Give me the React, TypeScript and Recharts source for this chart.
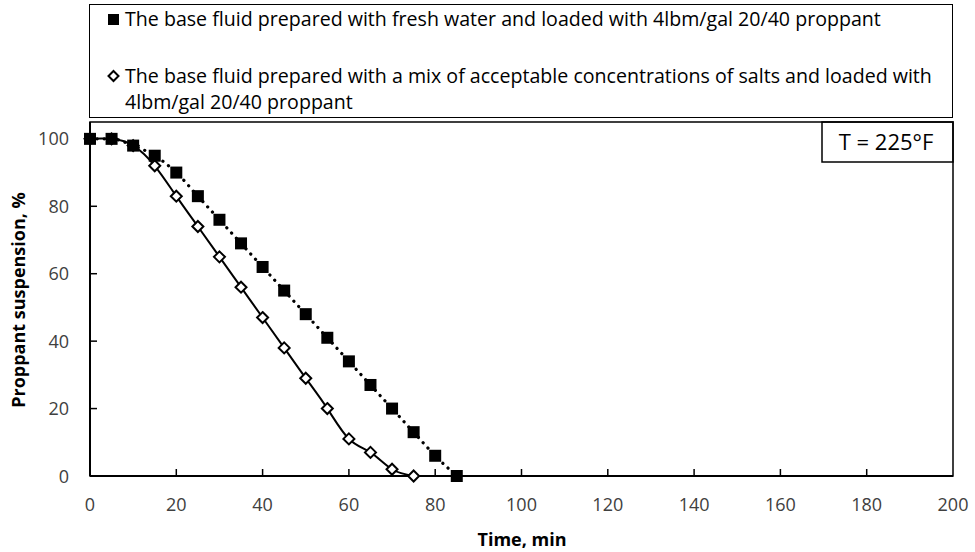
import React from "react";
import { LineChart, Line, XAxis, YAxis, ReferenceArea } from "recharts";

const timeMin = [0, 5, 10, 15, 20, 25, 30, 35, 40, 45, 50, 55, 60, 65, 70, 75, 80, 85];
const freshWater = [100, 100, 98, 95, 90, 83, 76, 69, 62, 55, 48, 41, 34, 27, 20, 13, 6, 0];
const saltMix = [100, 100, 98, 92, 83, 74, 65, 56, 47, 38, 29, 20, 11, 7, 2, 0];

const xTicks = [0, 20, 40, 60, 80, 100, 120, 140, 160, 180, 200];
const yTicks = [0, 20, 40, 60, 80, 100];

const freshLabel =
  "The base fluid prepared with fresh water and loaded with 4lbm/gal 20/40 proppant";
const saltLabel1 =
  "The base fluid prepared with a mix of acceptable concentrations of salts and loaded with";
const saltLabel2 = "4lbm/gal 20/40 proppant";

const data = timeMin.map((t, i) => ({
  time: t,
  fresh: freshWater[i],
  salt: saltMix[i] ?? null,
}));

const FONT = "'Open Sans', sans-serif";

const SquareDot = (props: any) => {
  const { cx, cy } = props;
  if (cx == null || cy == null) return null;
  return <rect x={cx - 6} y={cy - 6} width={12} height={12} fill="#000" />;
};

const DiamondDot = (props: any) => {
  const { cx, cy } = props;
  if (cx == null || cy == null) return null;
  const r = 5.5;
  return (
    <polygon
      points={`${cx},${cy - r} ${cx + r},${cy} ${cx},${cy + r} ${cx - r},${cy}`}
      fill="#fff"
      stroke="#000"
      strokeWidth={2}
    />
  );
};

const XTick = (props: any) => {
  const { x, y, payload } = props;
  return (
    <g>
      {payload.value !== 0 && payload.value !== 200 && (
        <line x1={x} y1={y} x2={x} y2={y - 7} stroke="#000" strokeWidth={1.5} />
      )}
      <text x={x} y={y + 35} textAnchor="middle" fill="#404040" fontSize={18} fontFamily={FONT}>
        {payload.value}
      </text>
    </g>
  );
};

const YTick = (props: any) => {
  const { x, y, payload } = props;
  return (
    <g>
      {payload.value !== 0 && (
        <line x1={x} y1={y} x2={x + 7} y2={y} stroke="#000" strokeWidth={1.5} />
      )}
      <text x={x - 21} y={y + 6.5} textAnchor="end" fill="#404040" fontSize={18} fontFamily={FONT}>
        {payload.value}
      </text>
    </g>
  );
};

const legendRow: React.CSSProperties = {
  position: "absolute",
  left: 17,
  whiteSpace: "nowrap",
  lineHeight: "26px",
};

export default function App() {
  return (
    <div style={{ position: "absolute", left: 0, top: 0, width: 975, height: 552, background: "#fff" }}>
      <LineChart
        width={975}
        height={552}
        data={data}
        margin={{ top: 122, right: 22, left: 0, bottom: 0 }}
      >
        <XAxis
          dataKey="time"
          type="number"
          domain={[0, 200]}
          ticks={xTicks}
          height={76}
          tickSize={0}
          tickMargin={0}
          tick={<XTick />}
          axisLine={{ stroke: "#000", strokeWidth: 2 }}
          tickLine={false}
          interval={0}
        />
        <YAxis
          type="number"
          domain={[0, 105]}
          ticks={yTicks}
          width={90}
          tickSize={0}
          tickMargin={0}
          tick={<YTick />}
          axisLine={{ stroke: "#000", strokeWidth: 2 }}
          tickLine={false}
          interval={0}
        />
        <ReferenceArea
          x1={0}
          x2={200}
          y1={0}
          y2={105}
          fill="none"
          fillOpacity={0}
          stroke="#000"
          strokeWidth={1.5}
        />
        <Line
          type="natural"
          dataKey="salt"
          stroke="#000"
          strokeWidth={2}
          dot={<DiamondDot />}
          isAnimationActive={false}
        />
        <Line
          type="monotone"
          dataKey="fresh"
          stroke="#000"
          strokeWidth={3.2}
          strokeDasharray="0.1 7"
          strokeLinecap="round"
          dot={<SquareDot />}
          isAnimationActive={false}
        />
        <text
          x={18}
          y={300}
          transform="rotate(-90 18 300)"
          textAnchor="middle"
          dominantBaseline="central"
          fontFamily={FONT}
          fontWeight="bold"
          fontSize={18}
          fill="#000"
        >
          Proppant suspension, %
        </text>
        <text
          x={522}
          y={546}
          textAnchor="middle"
          fontFamily={FONT}
          fontWeight="bold"
          fontSize={18}
          fill="#000"
        >
          Time, min
        </text>
        <rect x={822} y={122} width={131} height={40} fill="#fff" stroke="#000" strokeWidth={1.5} />
        <text x={886} y={150} textAnchor="middle" fontFamily={FONT} fontSize={22} fill="#000">
          T = 225°F
        </text>
      </LineChart>
      <div
        style={{
          position: "absolute",
          left: 89,
          top: 4,
          width: 864,
          height: 114,
          boxSizing: "border-box",
          border: "1.5px solid #000",
          fontFamily: FONT,
          fontSize: 19.6,
          color: "#000",
        }}
      >
        <div style={{ ...legendRow, top: 1 }}>
          <svg width={18} height={26} style={{ verticalAlign: "top" }}>
            <rect x={1} y={8} width={11} height={11} fill="#000" />
          </svg>
          {freshLabel}
        </div>
        <div style={{ ...legendRow, top: 58 }}>
          <svg width={18} height={26} style={{ verticalAlign: "top" }}>
            <polygon points="6.5,8 11.5,13 6.5,18 1.5,13" fill="#fff" stroke="#000" strokeWidth={2} />
          </svg>
          {saltLabel1}
        </div>
        <div style={{ ...legendRow, top: 84, left: 35 }}>{saltLabel2}</div>
      </div>
    </div>
  );
}
